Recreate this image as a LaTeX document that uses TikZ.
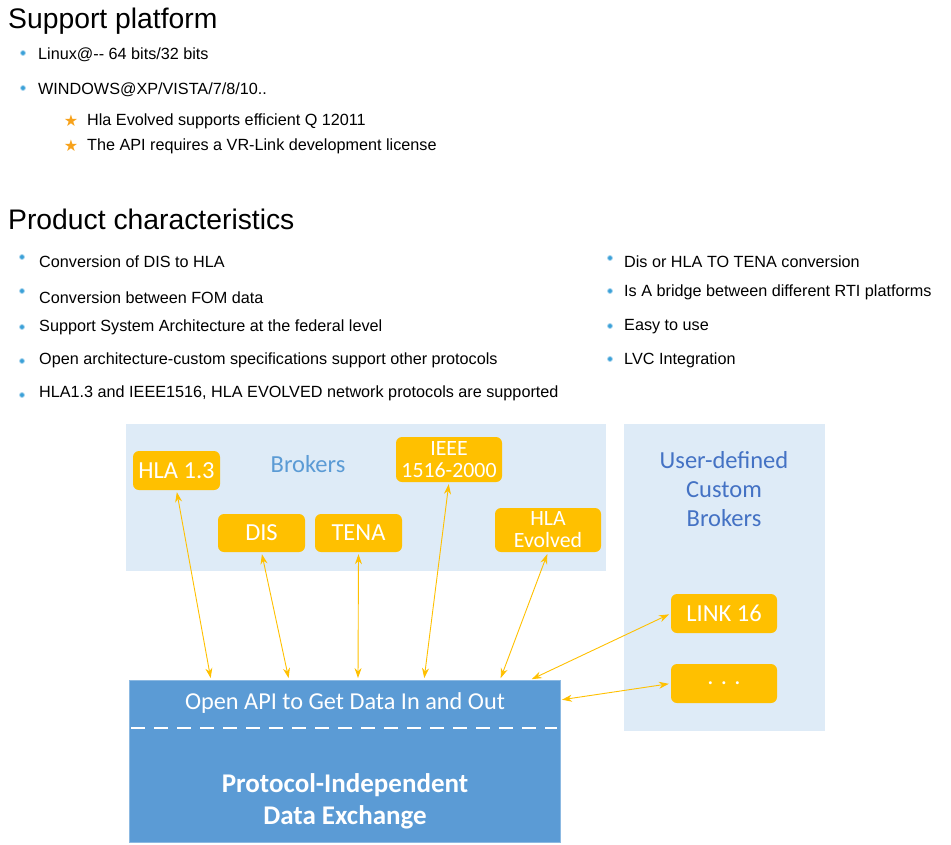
\documentclass[tikz,border=0pt]{standalone}
\usepackage{fontspec}
\setmainfont{Liberation Sans}
\newfontfamily\calibrifont{Carlito}
\newfontfamily\symbolfont{DejaVu Sans}
\usetikzlibrary{arrows.meta}
\definecolor{bulletblue}{HTML}{3AA0D8}
\definecolor{starorange}{HTML}{F7A21B}
\definecolor{paleblue}{HTML}{DEEBF7}
\definecolor{midblue}{HTML}{5B9BD5}
\definecolor{deepblue}{HTML}{4472C4}
\definecolor{gold}{HTML}{FFC000}

\begin{document}
\begin{tikzpicture}[x=1pt,y=-1pt,>={Stealth[length=10pt,width=7pt]},
  title/.style={anchor=base west,inner sep=0pt,font=\fontsize{28.3}{32}\selectfont},
  item/.style={anchor=west,inner sep=0pt,yshift=-1.5pt,font=\fontsize{16.2}{19}\selectfont},
  dot/.style={circle,fill=bulletblue,draw=bulletblue!40,line width=0.8pt,minimum size=5pt,inner sep=0pt},
  star/.style={inner sep=0pt,text=starorange,font=\symbolfont\fontsize{16}{18}\selectfont},
  panel/.style={fill=paleblue,anchor=north west,inner sep=0pt},
  broker/.style={fill=gold,rounded corners=6pt,text=white,inner sep=0pt,align=center,
    font=\calibrifont\fontsize{24.5}{24}\selectfont},
  small/.style={font=\calibrifont\fontsize{21.8}{22}\selectfont},
  link/.style={<->,draw=gold,line width=0.9pt,shorten <=2pt,shorten >=2pt}]
\useasboundingbox (0,0) rectangle (951,844);

% support platform
\node[title] (support) at (8,28) {Support platform};
\node[dot] (d1) at (23,53) {};
\node[item] (linux) at (38,53) {Linux@{-}{-} 64 bits/32 bits};
\node[dot] (d2) at (23,88) {};
\node[item] (windows) at (38,88) {WINDOWS@XP/VISTA/7/8/10..};
\node[star] (s1) at (71,121) {★};
\node[item] (evolved) at (87,120) {Hla Evolved supports efficient Q 12011};
\node[star] (s2) at (71,146) {★};
\node[item] (license) at (87,145) {The API requires a VR-Link development license};

% product characteristics
\node[title] (product) at (8,229) {Product characteristics};
\node[dot] (p1) at (22,257) {};
\node[item] (conv) at (39,260) {Conversion of DIS to HLA};
\node[dot] (p2) at (22,291) {};
\node[item] (fom) at (39,296) {Conversion between FOM data};
\node[dot] (p3) at (22,327) {};
\node[item] (federal) at (39,326) {Support System Architecture at the federal level};
\node[dot] (p4) at (22,361) {};
\node[item] (open) at (39,359) {Open architecture-custom specifications support other protocols};
\node[dot] (p5) at (22,395) {};
\node[item] (nets) at (39,392) {HLA1.3 and IEEE1516, HLA EVOLVED network protocols are supported};
\node[dot] (q1) at (610,258) {};
\node[item] (tena) at (624,260) {Dis or HLA TO TENA conversion};
\node[dot] (q2) at (610,291) {};
\node[item] (bridge) at (624,291) {Is A bridge between different RTI platforms};
\node[dot] (q3) at (610,326) {};
\node[item] (easy) at (624,325) {Easy to use};
\node[dot] (q4) at (610,359) {};
\node[item] (lvc) at (624,359) {LVC Integration};

% panels
\node[panel,minimum width=480pt,minimum height=147pt] (brokerpanel) at (126,424) {};
\node[panel,minimum width=201pt,minimum height=307pt] (custompanel) at (624,424) {};
\node[text=midblue,font=\calibrifont\fontsize{24.5}{24}\selectfont] (brokers) at (308,464) {Brokers};
\node[text=deepblue,align=center,font=\calibrifont\fontsize{24.5}{29}\selectfont] (userdef) at (724,489) {User-defined\\Custom\\Brokers};

% exchange block
\node[fill=midblue,draw=midblue!70!white,anchor=north west,minimum width=431pt,minimum height=162pt,inner sep=0pt] (core) at (129,680) {};
\coordinate (dashl) at (131,728);
\coordinate (dashr) at (557,728);
\draw[white,line width=1.6pt,dash pattern=on 14pt off 9pt] (dashl) -- (dashr);
\node[text=white,font=\calibrifont\fontsize{24.3}{24}\selectfont] (api) at (345,703) {Open API to Get Data In and Out};
\node[text=white,align=center,font=\calibrifont\bfseries\fontsize{27}{32}\selectfont] (pide) at (345,801) {Protocol-Independent\\Data Exchange};

% brokers
\node[broker,minimum width=87pt,minimum height=39pt] (hla) at (176.5,470.5) {HLA 1.3};
\node[broker,minimum width=87pt,minimum height=38pt] (dis) at (261.5,533) {DIS};
\node[broker,minimum width=87pt,minimum height=38pt] (tenabox) at (358.5,533) {TENA};
\node[broker,small,minimum width=106pt,minimum height=45pt] (ieee) at (449,459.5) {IEEE\\1516-2000};
\node[broker,small,minimum width=106pt,minimum height=44pt] (hlaev) at (548,530) {HLA\\Evolved};
\node[broker,minimum width=106pt,minimum height=39pt] (link) at (724,613.5) {LINK 16};
\node[broker,minimum width=106pt,minimum height=39pt] (more) at (724,683.5) {. . .};

% ends on the block
\coordinate (e1) at (211,680);
\coordinate (e2) at (289,680);
\coordinate (e3) at (358,680);
\coordinate (e4) at (424,680);
\coordinate (e5) at (500,680);
\coordinate (e6) at (530,680);
\coordinate (e7) at (560,700);

\path (hla.south)     edge [link] (e1)
      (dis.south)     edge [link] (e2)
      (tenabox.south) edge [link] (e3)
      (ieee.south)    edge [link] (e4)
      (hlaev.south)   edge [link] (e5)
      (link.west)     edge [link] (e6)
      (more.west)     edge [link] (e7);
\end{tikzpicture}
\end{document}
